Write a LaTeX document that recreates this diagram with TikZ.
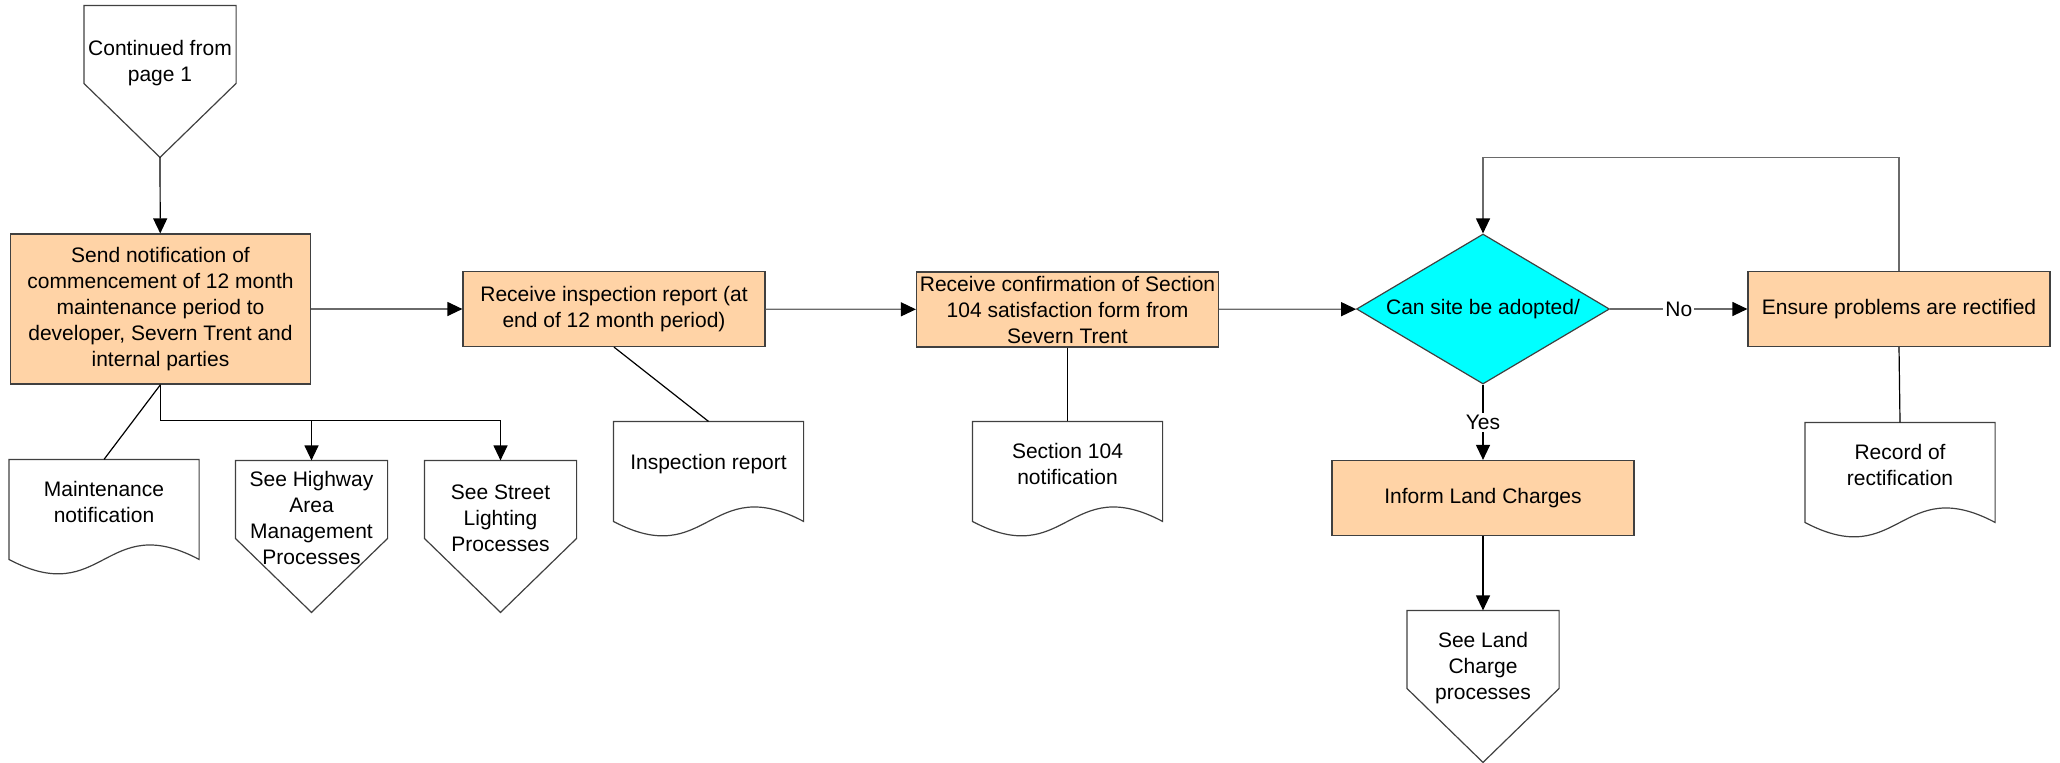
\documentclass[tikz,border=0pt]{standalone}
\usepackage{fontspec}
\setmainfont{Liberation Sans}
\usetikzlibrary{shapes.geometric, arrows.meta, positioning, calc}
\definecolor{procfill}{HTML}{FFD3A6}
\definecolor{procline}{HTML}{404040}
\definecolor{flowline}{HTML}{6A6A6A}
\definecolor{askfill}{HTML}{00FFFF}

\begin{document}
\begin{tikzpicture}[x=0.5pt, y=-0.5pt, font=\fontsize{10.5}{13}\selectfont, line width=0.6pt,
    proc/.style={draw=procline, fill=procfill, align=center, minimum width=151pt, minimum height=37.5pt, inner sep=1pt},
    decision/.style={draw=procline, fill=askfill, diamond, aspect=1.7, minimum width=126.5pt, minimum height=75pt, inner sep=0pt},
    offpage/.style={align=center, minimum width=75.5pt, minimum height=57pt, inner sep=0pt},
    doc/.style={align=center, minimum width=94.5pt, minimum height=42pt, inner sep=0pt},
    flow/.style={draw=flowline, -{Triangle[length=7.5pt, width=7pt, color=black]}},
    assoc/.style={draw=black}]
    \useasboundingbox (0,0) rectangle (2060,762);

    \node[offpage] (cont) at (160,63) {Continued from\\page 1};
    \node[proc, minimum width=150pt, minimum height=75pt] (send) at (160.5,309) {Send notification of\\commencement of 12 month\\maintenance period to\\developer, Severn Trent and\\internal parties};
    \node[proc] (rcv) at (614,309) {Receive inspection report (at\\end of 12 month period)};
    \node[proc] (conf) at (1067.5,309.5) {Receive confirmation of Section\\104 satisfaction form from\\Severn Trent};
    \node[decision] (adopt) at (1483,309) {Can site be adopted/};
    \node[proc] (fix) at (1899,309) {Ensure problems are rectified};
    \node[proc] (inform) at (1483,498) {Inform Land Charges};
    \node[offpage] (land) at (1483,668) {See Land\\Charge\\processes};

    \node[doc] (mnote) at (104,502) {Maintenance\\notification};
    \node[offpage] (hwy) at (311.5,518) {See Highway\\Area\\Management\\Processes};
    \node[offpage] (light) at (500.5,518) {See Street\\Lighting\\Processes};
    \node[doc] (insp) at (708.5,464) {Inspection report};
    \node[doc] (s104) at (1067.5,464) {Section 104\\notification};
    \node[doc] (rec) at (1900,465) {Record of\\rectification};

    % off-page outlines and document outlines
    \foreach \n in {cont,hwy,light,land}
        \draw[procline] (\n.north west) -- (\n.north east) -- ([yshift=-39pt]\n.north east) -- ([yshift=-76pt]\n.north) -- ([yshift=-39pt]\n.north west) -- cycle;
    \foreach \n in {mnote,insp,s104,rec}
        \draw[procline] (\n.north west) -- (\n.north east) -- ([yshift=-50pt]\n.north east) .. controls +(-47.25pt,25pt) and +(47.25pt,-25pt) .. ([yshift=-50pt]\n.north west) -- cycle;

    \coordinate (cont-tip) at ([yshift=-76pt]cont.north);
    \coordinate (split) at ([yshift=-18pt]send.south);
    \coordinate (loop) at ([yshift=38pt]adopt.north);

    \draw[flow, draw=black] (cont-tip) -- (send);
    \draw[flow] (send) -- (rcv);
    \draw[flow] (rcv) -- (conf);
    \draw[flow] (conf) -- (adopt);
    \draw[flow] (adopt) -- node[fill=white, inner sep=1pt] {No} (fix);
    \draw[flow, draw=black] (adopt) -- node[fill=white, inner sep=1pt] {Yes} (inform);
    \draw[flow, draw=black] (inform) -- (land);
    \draw[flow] (fix.north) |- (loop) -- (adopt.north);
    \draw[flow, draw=black] (send.south) -- (split) -| (light.north);
    \draw[flow, draw=black] (split -| hwy.north) -- (hwy.north);

    \draw[assoc] (send.south) -- (mnote.north);
    \draw[assoc] (rcv.south) -- (insp.north);
    \draw[assoc] (conf.south) -- (s104.north);
    \draw[assoc] (fix.south) -- (rec.north);
\end{tikzpicture}
\end{document}
